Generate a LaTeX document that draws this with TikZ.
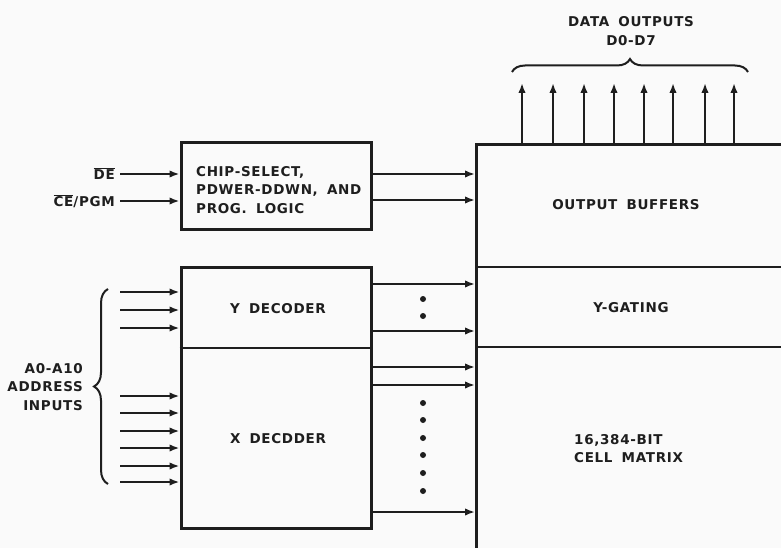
\documentclass[tikz,border=0pt]{standalone}
\usepackage{fontspec}
\setmainfont{DejaVu Sans}[LetterSpace=5,WordSpace=1.7]
\usetikzlibrary{arrows.meta,decorations.pathreplacing}
\definecolor{bgc}{RGB}{250,250,250}
\definecolor{ink}{RGB}{30,30,30}
\begin{document}
\begin{tikzpicture}[x=1pt,y=-1pt,
  lab/.style={font=\fontsize{13.5}{18.5}\selectfont\bfseries, inner sep=0pt, text=ink},
  box/.style={draw=ink, line width=3pt, inner sep=0pt},
  sig/.style={draw=ink, line width=2.4pt, -{Latex[length=10pt,width=7.5pt]}},
  div/.style={draw=ink, line width=1.8pt},
  dotn/.style={circle, fill=ink, inner sep=0pt, minimum size=6pt},
  brc/.style={draw=ink, line width=2pt, decorate}]
\clip (0,0) rectangle (781,548);
\fill[bgc] (0,0) rectangle (781,548);

% boxes
\node[box, minimum width=190pt, minimum height=86pt] (cs) at (276,186) {};
\node[lab, align=left, anchor=west] (cstext) at (196,190) {CHIP-SELECT,\\PDWER-DDWN, AND\\PROG. LOGIC};

\node[box, minimum width=190pt, minimum height=261pt] (dec) at (276,397.5) {};
\coordinate (ydiv) at (0,348);
\draw[div] (dec.west |- ydiv) -- (dec.east |- ydiv);
\node[lab] (ydec) at (278,309) {Y DECODER};
\node[lab] (xdec) at (278,439) {X DECDDER};

\node[box, minimum width=340pt, minimum height=440pt, anchor=north west] (mem) at (475,143) {};
\coordinate (m1) at (781,267);
\coordinate (m2) at (781,347);
\draw[div] (mem.west |- m1) -- (m1);
\draw[div] (mem.west |- m2) -- (m2);
\node[lab] (ob) at (626,205) {OUTPUT BUFFERS};
\node[lab] (yg) at (631,308) {Y-GATING};
\node[lab, align=left, anchor=west] (cm) at (574,448.5) {16,384-BIT\\CELL MATRIX};

% control inputs
\node[lab, anchor=east] (de) at (115,174) {$\overline{\hbox{DE}}$};
\node[lab, anchor=east] (ce) at (115,201) {$\overline{\hbox{CE}}$/PGM};
\draw[sig, shorten <=5pt] (de.east) -- (de.east -| cs.west);
\draw[sig, shorten <=5pt] (ce.east) -- (ce.east -| cs.west);
\coordinate (c1) at (0,174);
\coordinate (c2) at (0,200);
\draw[sig] (cs.east |- c1) -- (mem.west |- c1);
\draw[sig] (cs.east |- c2) -- (mem.west |- c2);

% address inputs
\foreach \y [count=\i] in {292,310,328,396,413,431,448,466,482} {
  \coordinate (a\i) at (120,\y);
  \draw[sig] (a\i) -- (a\i -| dec.west);
}
\coordinate (bb) at (108,484);
\coordinate (bt) at (108,289);
\draw[brc, decoration={brace, amplitude=14pt}] (bb) -- (bt);
\node[lab, align=right, anchor=east] (addr) at (83,387) {A0-A10\\ADDRESS\\INPUTS};

% decoder outputs
\foreach \y [count=\i] in {284,331,367,385,512} {
  \coordinate (o\i) at (0,\y);
  \draw[sig] (dec.east |- o\i) -- (mem.west |- o\i);
}
\foreach \y [count=\i] in {299,316,403,420,438,455,473,491} {
  \node[dotn] (dot\i) at (423,\y) {};
}

% data outputs
\foreach \x [count=\i] in {522,553,584,614,644,673,705,734} {
  \coordinate (t\i) at (\x,83);
  \draw[sig] (t\i |- mem.north) -- (t\i);
}
\coordinate (tl) at (512,72);
\coordinate (tr) at (748,72);
\draw[brc, decoration={brace, amplitude=13pt}] (tl) -- (tr);
\node[lab, align=center] (dout) at (631,31) {DATA OUTPUTS\\D0-D7};
\end{tikzpicture}
\end{document}
